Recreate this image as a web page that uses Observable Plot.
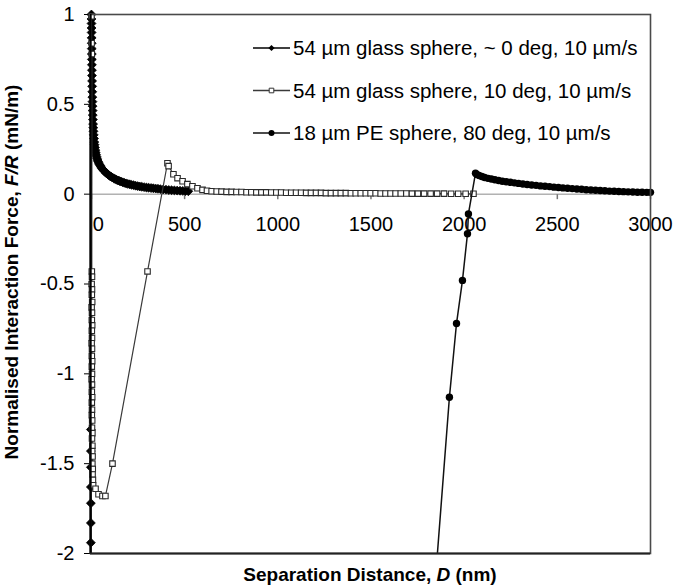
<!DOCTYPE html>
<html>
<head>
<meta charset="utf-8">
<script src="https://cdn.jsdelivr.net/npm/d3@7"></script>
<script src="https://cdn.jsdelivr.net/npm/@observablehq/plot@0.6"></script>
<style>
  body { margin: 0; background: #fff; }
  #chart svg { font-family: "Liberation Sans", Arial, sans-serif; }
</style>
</head>
<body>
<div id="chart"></div>
<script>
// Axis ranges and tick values
const xDomain = [-5, 3000];
const yDomain = [-2, 1];
const xTicks = [0, 500, 1000, 1500, 2000, 2500, 3000];
const yTicks = [-2, -1.5, -1, -0.5, 0, 0.5, 1];

const seriesNames = [
  "54 µm glass sphere, ~ 0 deg, 10 µm/s",
  "54 µm glass sphere, 10 deg, 10 µm/s",
  "18 µm PE sphere, 80 deg, 10 µm/s"
];

// 54 µm glass sphere, ~0 deg: approach curve, then pull-off at contact
const glass0D = [520, 505, 490, 475, 460, 445, 430, 415, 400, 385, 370, 357, 345, 332, 320, 307, 295, 282, 270, 259,
  248, 237, 226, 215, 205, 195, 186, 177, 168, 159, 151, 143, 135, 127, 120, 113, 106, 99, 93, 87,
  81, 75, 70, 65, 60, 55, 51, 47, 43, 39, 36, 33, 30, 27, 25, 23, 21, 19, 17, 15.5,
  14, 12.5, 11, 10, 9, 8, 7, 6.5, 6, 5.5, 5, 4.5, 4, 3.5, 3, 2.7, 2.5, 2.2, 2, 1.7,
  1.5, 1.2, 1, 0.7, 0.5, 0.2, 0,
  -3, -3, -3, -3, -3, -3, -3, -3];
const glass0F = [0.016, 0.017, 0.018, 0.019, 0.02, 0.021, 0.022, 0.023, 0.025, 0.026, 0.028, 0.03, 0.031, 0.033, 0.034, 0.036, 0.037, 0.039, 0.041, 0.043,
  0.045, 0.047, 0.05, 0.052, 0.055, 0.057, 0.06, 0.063, 0.066, 0.07, 0.073, 0.076, 0.08, 0.084, 0.088, 0.092, 0.097, 0.101, 0.106, 0.111,
  0.116, 0.121, 0.127, 0.133, 0.139, 0.145, 0.152, 0.159, 0.166, 0.174, 0.182, 0.19, 0.2, 0.21, 0.22, 0.232, 0.245, 0.26, 0.275, 0.29,
  0.31, 0.33, 0.35, 0.37, 0.39, 0.415, 0.44, 0.465, 0.49, 0.515, 0.54, 0.57, 0.6, 0.63, 0.66, 0.69, 0.72, 0.75, 0.78, 0.81,
  0.84, 0.87, 0.9, 0.925, 0.95, 0.975, 1.0,
  -1.31, -1.43, -1.52, -1.63, -1.72, -1.83, -1.94, -2.15];

// 54 µm glass sphere, 10 deg: contact, retraction, snap-off and long-range tail
const glass10D = [0, 1, 2,
  2, 3, 1, 3, 2, 4, 1, 3, 2, 4, 2, 3, 1, 3, 2, 4, 2, 3, 1, 3, 2, 4, 2, 3, 2, 4, 3, 5, 3, 5, 4, 6, 5, 7, 6, 8, 9,
  22, 38, 59, 75, 113, 301, 408, 414, 440, 462, 489, 515, 542, 569, 596, 620,
  645, 672, 698, 725, 752, 778, 805, 832, 858, 885, 912, 938, 965, 992, 1018, 1045, 1072, 1098, 1125, 1152,
  1178, 1205, 1232, 1258, 1285, 1312, 1338, 1365, 1392, 1418, 1445, 1472, 1498, 1525, 1552, 1578, 1605, 1632,
  1660, 1690, 1720, 1752, 1785, 1820, 1855, 1892, 1930, 1968, 2008, 2050];
const glass10F = [0.99, 0.84, 0.78,
  -0.43, -0.46, -0.5, -0.53, -0.56, -0.6, -0.63, -0.66, -0.7, -0.73, -0.76, -0.8, -0.83, -0.86, -0.9, -0.93, -0.96, -1.0,
  -1.03, -1.06, -1.1, -1.13, -1.16, -1.2, -1.23, -1.26, -1.3, -1.33, -1.36, -1.4, -1.43, -1.46, -1.5, -1.53, -1.56, -1.59, -1.62,
  -1.64, -1.67, -1.68, -1.68, -1.5, -0.43, 0.172, 0.156, 0.111, 0.089, 0.072, 0.056, 0.044, 0.033, 0.024, 0.019,
  0.016, 0.015, 0.014, 0.013, 0.013, 0.012, 0.012, 0.011, 0.011, 0.01, 0.01, 0.01, 0.009, 0.009, 0.009, 0.008, 0.008, 0.008, 0.008, 0.007,
  0.007, 0.007, 0.007, 0.006, 0.006, 0.006, 0.006, 0.006, 0.005, 0.005, 0.005, 0.005, 0.005, 0.005, 0.004, 0.004, 0.004, 0.004,
  0.004, 0.004, 0.003, 0.003, 0.003, 0.003, 0.003, 0.003, 0.002, 0.002, 0.002, 0.002];

// 18 µm PE sphere, 80 deg: snap-in branch and repulsive tail
const peD = [1838, 1921, 1959, 1991, 2018, 2023, 2061,
  2068, 2080, 2095, 2110, 2128, 2146, 2165, 2185, 2205, 2226, 2248, 2270, 2292, 2315, 2338, 2362, 2386, 2410, 2434, 2458,
  2482, 2506, 2530, 2555, 2580, 2605, 2630, 2655, 2680, 2705, 2730, 2755, 2780, 2805, 2830, 2855, 2880, 2905, 2930, 2955, 2980, 3000];
const peF = [-2.25, -1.13, -0.72, -0.48, -0.22, -0.11, 0.117,
  0.11, 0.104, 0.098, 0.093, 0.088, 0.084, 0.08, 0.076, 0.072, 0.069, 0.066, 0.063, 0.06, 0.057, 0.054, 0.051, 0.049, 0.046, 0.044, 0.042,
  0.039, 0.037, 0.035, 0.033, 0.031, 0.029, 0.027, 0.025, 0.023, 0.022, 0.02, 0.019, 0.017, 0.016, 0.015, 0.014, 0.013, 0.012, 0.011, 0.011, 0.01, 0.01];

const rows = (D, F) => D.map((d, i) => ({d, f: F[i]}));
const glass0 = rows(glass0D, glass0F);
const glass10 = rows(glass10D, glass10F);
const pe = rows(peD, peF);
// markers are drawn only for points inside the vertical range
const inRange = r => r.f >= yDomain[0] && r.f <= yDomain[1];

const W = 675, H = 587;
const M = {top: 14, right: 25, bottom: 34, left: 90};
const font = "'Liberation Sans', Arial, sans-serif";

// short downward tick used on the zero line
const tickDown = {draw(ctx) { ctx.moveTo(0, 0); ctx.lineTo(0, 5); }};

const plot = Plot.plot({
  width: W,
  height: H,
  marginTop: M.top,
  marginRight: M.right,
  marginBottom: M.bottom,
  marginLeft: M.left,
  style: {fontFamily: font, fontSize: "20px", color: "#000", background: "#fff"},
  x: {domain: xDomain, axis: null},
  y: {domain: yDomain, ticks: yTicks, tickFormat: d => String(d), tickSize: 6, tickPadding: 10, label: null},
  marks: [
    Plot.ruleY([0], {stroke: "#8a8a8a", strokeWidth: 1}),
    Plot.dot(xTicks, {x: d => d, y: () => 0, symbol: tickDown, stroke: "#777", fill: "none", r: 2}),
    Plot.text(xTicks.filter(d => d !== 0), {x: d => d, y: () => 0, text: d => String(d), dy: 30, fontSize: 20, fill: "#000"}),
    Plot.text(xTicks.filter(d => d === 0), {x: d => d, y: () => 0, text: d => String(d), dy: 30, dx: 7, fontSize: 20, fill: "#000"}),

    Plot.line(glass0, {x: "d", y: "f", stroke: "#000", strokeWidth: 1.8, clip: true}),
    Plot.dot(glass0, {x: "d", y: "f", filter: inRange, symbol: "diamond2", r: 4, fill: "#000", stroke: "#000", strokeWidth: 0.8}),

    Plot.line(glass10, {x: "d", y: "f", stroke: "#3a3a3a", strokeWidth: 1.2, clip: true}),
    Plot.dot(glass10, {x: "d", y: "f", filter: inRange, symbol: "square", r: 3.1, fill: "#fff", stroke: "#2a2a2a", strokeWidth: 1.1}),

    Plot.line(pe, {x: "d", y: "f", stroke: "#111", strokeWidth: 1.5, clip: true}),
    Plot.dot(pe, {x: "d", y: "f", filter: inRange, r: 3.7, fill: "#000", stroke: "none"}),

    Plot.frame({stroke: "#4a4a4a", strokeWidth: 1.6}),
    Plot.ruleX([xDomain[0]], {stroke: "#000", strokeWidth: 2.2}),
    Plot.ruleY([yDomain[0]], {stroke: "#222", strokeWidth: 2.2})
  ]
});

const svg = d3.select(plot);

// Legend inside the plot area, top right
const legend = [
  {name: seriesNames[0], symbol: d3.symbolDiamond2, r: 2.8, fill: "#000", stroke: "none", line: "#000"},
  {name: seriesNames[1], symbol: d3.symbolSquare, r: 2.6, fill: "#fff", stroke: "#333", line: "#3a3a3a"},
  {name: seriesNames[2], symbol: d3.symbolCircle, r: 3.0, fill: "#000", stroke: "none", line: "#111"}
];
const lg = svg.append("g").attr("font-family", font).attr("font-size", 20.5).attr("text-anchor", "start");
legend.forEach((s, i) => {
  const y = 48 + i * 42.5;
  lg.append("line").attr("x1", 253).attr("x2", 290).attr("y1", y).attr("y2", y)
    .attr("stroke", s.line).attr("stroke-width", 1.3);
  lg.append("path").attr("transform", `translate(271.5,${y})`)
    .attr("d", d3.symbol(s.symbol, Math.PI * s.r * s.r)())
    .attr("fill", s.fill).attr("stroke", s.stroke);
  lg.append("text").attr("x", 293).attr("y", y).attr("dy", "0.36em")
    .attr("text-anchor", "start").attr("fill", "#000").text(s.name);
});

// Axis titles
const yt = svg.append("text")
  .attr("transform", "translate(18,272) rotate(-90)")
  .attr("text-anchor", "middle").attr("font-family", font)
  .attr("font-size", 19).attr("font-weight", "bold").attr("fill", "#000");
yt.append("tspan").text("Normalised Interaction Force, ");
yt.append("tspan").attr("font-style", "italic").text("F/R");
yt.append("tspan").text(" (mN/m)");

const xt = svg.append("text")
  .attr("x", 370).attr("y", 581)
  .attr("text-anchor", "middle").attr("font-family", font)
  .attr("font-size", 19).attr("font-weight", "bold").attr("fill", "#000");
xt.append("tspan").text("Separation Distance, ");
xt.append("tspan").attr("font-style", "italic").text("D");
xt.append("tspan").text(" (nm)");

document.getElementById("chart").appendChild(plot);
</script>
</body>
</html>
